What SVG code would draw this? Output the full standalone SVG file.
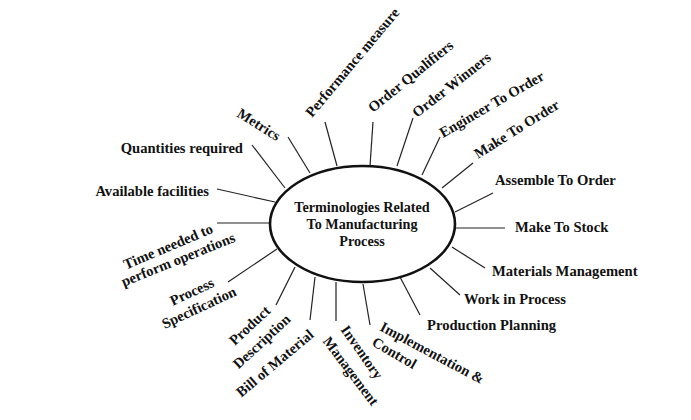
<svg xmlns="http://www.w3.org/2000/svg" width="691" height="420" viewBox="0 0 691 420">
<style>
text{font-family:"Liberation Serif","Times New Roman",serif;font-weight:bold;font-size:14.6px;fill:#111}
.c{font-size:14.2px;text-anchor:middle}
.m{text-anchor:middle}
.e{text-anchor:end}
.ln{stroke:#222;stroke-width:1.2;fill:none}
</style>
<rect width="691" height="420" fill="#fff"/>
<g id="connectors" class="ln">
<line x1="325" y1="122" x2="337" y2="166"/>
<line x1="373" y1="122" x2="370" y2="166"/>
<line x1="288" y1="137" x2="310" y2="173"/>
<line x1="252" y1="145" x2="285" y2="188"/>
<line x1="217" y1="189" x2="275" y2="202"/>
<line x1="217" y1="223" x2="270" y2="223"/>
<line x1="228" y1="282" x2="277" y2="249"/>
<line x1="276" y1="305" x2="295" y2="267"/>
<line x1="310" y1="320" x2="315" y2="277"/>
<line x1="336" y1="321" x2="336" y2="282"/>
<line x1="370" y1="325" x2="363" y2="284"/>
<line x1="420" y1="315" x2="400" y2="277"/>
<line x1="460" y1="295" x2="430" y2="268"/>
<line x1="485" y1="268" x2="452" y2="247"/>
<line x1="455" y1="228" x2="505" y2="228"/>
<line x1="493" y1="193" x2="455" y2="212"/>
<line x1="473" y1="163" x2="442" y2="188"/>
<line x1="440" y1="137" x2="422" y2="175"/>
<line x1="413" y1="118" x2="397" y2="166"/>
</g>
<g id="center">
<ellipse cx="362.5" cy="224" rx="92.5" ry="58" fill="#fff" stroke="#111" stroke-width="2.6"/>
<text class="c" x="362" y="212">Terminologies Related</text>
<text class="c" x="362" y="229">To Manufacturing</text>
<text class="c" x="362" y="246">Process</text>
</g>
<g id="performance-measure"><text transform="translate(312,118) rotate(-50)">Performance measure</text></g>
<g id="order-qualifiers"><text transform="translate(373,113) rotate(-39)">Order Qualifiers</text></g>
<g id="order-winners"><text transform="translate(417,118) rotate(-38)">Order Winners</text></g>
<g id="engineer-to-order"><text transform="translate(443,138) rotate(-30)">Engineer To Order</text></g>
<g id="make-to-order"><text transform="translate(478,159) rotate(-32)">Make To Order</text></g>
<g id="metrics"><text transform="translate(236,116) rotate(32)">Metrics</text></g>
<g id="quantities-required"><text class="e" x="243" y="153">Quantities required</text></g>
<g id="available-facilities"><text class="e" x="209" y="196">Available facilities</text></g>
<g id="time-needed">
<text class="m" transform="translate(170,251) rotate(-23)">Time needed to</text>
<text class="m" transform="translate(180,264) rotate(-22)">perform operations</text>
</g>
<g id="process-specification">
<text class="m" transform="translate(194,296) rotate(-25)">Process</text>
<text class="m" transform="translate(201,312) rotate(-25)">Specification</text>
</g>
<g id="product-description">
<text class="m" transform="translate(253,329) rotate(-43)">Product</text>
<text class="m" transform="translate(265,345) rotate(-43)">Description</text>
</g>
<g id="bill-of-material"><text class="m" transform="translate(278,367) rotate(-40)">Bill of Material</text></g>
<g id="inventory-management">
<text class="m" transform="translate(358,355) rotate(55)">Inventory</text>
<text class="m" transform="translate(347,374) rotate(53)">Management</text>
</g>
<g id="implementation-control">
<text transform="translate(379,330) rotate(28)">Implementation &amp;</text>
<text transform="translate(371,345) rotate(30)">Control</text>
</g>
<g id="production-planning"><text x="427" y="330">Production Planning</text></g>
<g id="work-in-process"><text x="464" y="304">Work in Process</text></g>
<g id="materials-management"><text x="492" y="276">Materials Management</text></g>
<g id="make-to-stock"><text x="515" y="232">Make To Stock</text></g>
<g id="assemble-to-order"><text x="495" y="185">Assemble To Order</text></g>
</svg>
